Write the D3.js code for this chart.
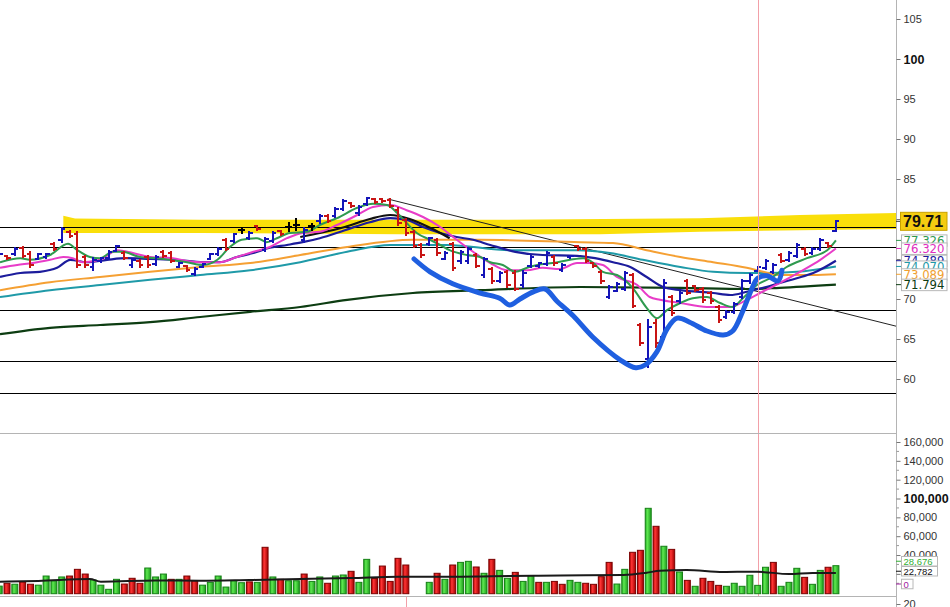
<!DOCTYPE html>
<html><head><meta charset="utf-8">
<script src="https://cdn.jsdelivr.net/npm/d3@7/dist/d3.min.js"></script>
<style>body{margin:0;background:#fff;overflow:hidden}svg{display:block}</style>
</head><body><svg id="c" width="950" height="607"></svg>
<script>
// ---------- DATA ----------
const opens  = [75.35,75.4,75.6,76.4,75.6,75.0,75.2,76.9,77.4,78.4,78.1,75.2,74.0,74.7,75.1,76.0,75.7,74.2,74.7,75.3,74.4,75.9,75.7,74.0,74.1,73.1,74.0,75.0,75.6,77.4,77.3,78.6,77.6,79.1,76.1,77.3,78.5,79.0,79.2,77.4,79.1,79.7,80.4,80.4,81.3,82.0,80.7,81.9,82.5,82.5,82.4,81.1,79.9,78.4,76.8,76.9,77.4,75.0,76.9,74.7,74.7,75.5,73.0,73.7,72.3,73.4,73.3,71.7,74.1,74.1,74.4,75.3,73.6,75.2,76.6,76.3,74.5,73.4,70.3,71.0,71.3,73.0,66.8,62.5,67.0,65.2,70.2,69.7,72.2,71.6,71.3,70.7,69.0,67.8,68.4,70.3,72.2,73.5,73.9,73.4,75.5,74.9,75.4,76.2,75.7,76.3,77.0,78.5];
const highs  = [75.75,75.5,76.5,76.6,75.9,75.75,75.75,77.1,78.9,78.6,78.4,75.5,75.25,75.25,76.1,76.75,75.9,75.1,74.9,75.5,75.5,76.1,75.9,74.6,74.25,74.0,74.5,75.75,76.4,77.6,78.25,79.0,78.4,79.25,77.75,78.4,78.6,79.6,80.1,78.9,79.5,80.6,80.6,81.5,82.4,82.1,81.75,82.75,82.6,82.6,82.6,81.4,80.1,78.6,77.0,77.75,77.6,75.9,77.1,76.1,76.4,75.75,75.25,73.9,73.4,73.6,73.6,73.6,75.5,74.6,75.9,75.5,74.5,75.5,76.75,76.5,74.6,73.6,71.75,72.1,73.4,73.25,67.0,67.4,67.4,72.4,70.5,71.0,72.4,71.75,71.5,70.9,69.25,68.6,69.6,72.5,73.25,74.1,75.0,74.5,75.75,75.9,77.0,76.4,76.4,77.6,77.1,79.8];
const lows   = [75.25,75.0,75.4,75.25,74.0,74.9,75.1,76.1,77.1,77.75,74.0,73.9,73.6,74.6,74.9,75.9,74.9,74.0,74.0,74.0,74.25,75.25,74.6,73.9,73.4,73.0,73.9,74.9,75.5,76.1,77.1,78.25,77.4,78.6,75.9,77.1,78.0,78.4,78.6,77.1,78.6,79.5,79.6,80.25,81.1,81.5,80.5,81.75,82.0,82.1,81.4,79.25,78.0,76.4,75.25,76.75,75.5,74.9,73.6,74.5,74.5,73.9,72.75,72.0,72.1,71.5,71.1,71.5,73.9,74.0,74.25,74.25,73.4,75.1,76.1,74.6,74.0,72.0,70.1,70.9,71.1,68.9,64.25,61.5,64.0,64.9,68.0,69.5,70.6,70.9,69.6,69.5,67.1,67.6,68.25,70.1,72.0,73.4,73.75,73.25,74.6,74.75,75.25,75.4,75.6,76.1,76.5,78.4];
const closes = [75.65,75.1,76.3,75.4,74.3,75.6,75.6,76.3,78.7,77.9,74.3,74.2,74.9,75.1,75.9,76.6,75.1,74.9,74.2,74.2,75.3,75.4,74.8,74.5,73.6,73.8,74.4,75.6,76.2,76.3,78.1,78.6,78.2,78.8,77.5,78.2,78.1,79.0,79.2,78.6,79.1,80.4,79.8,81.3,82.2,81.6,81.5,82.6,82.1,82.2,81.6,79.5,78.3,76.6,75.5,77.6,75.7,75.7,73.9,75.9,76.2,74.1,75.0,72.2,73.2,71.8,71.3,73.2,75.3,74.5,75.7,74.5,74.3,75.4,76.3,74.8,74.1,72.2,71.5,71.9,73.2,69.1,64.5,66.5,64.5,72.0,68.3,70.8,70.8,71.1,69.9,69.7,67.4,68.4,69.4,72.2,73.0,74.0,74.8,74.3,74.8,75.7,76.8,75.6,76.2,77.4,76.6,79.71];
const volumes = [7000,10000,9000,11400,9000,8000,17700,12700,16700,17700,24800,19800,13500,8000,3600,14200,9200,15300,10000,26200,16700,19800,14200,14200,17700,12700,8000,11000,17700,6000,12700,10600,11500,11000,48200,16700,14200,12700,12700,19800,12000,16700,10000,17700,18800,22700,11000,35400,15000,28300,12000,36500,29400,0,0,11000,20600,14200,29400,32200,33300,27300,20600,35400,23700,15300,21600,12000,18000,11000,11000,12000,8900,13100,11000,10000,8900,17000,32200,9200,24800,42900,45000,89600,70500,49300,46000,22000,13100,6800,15300,12000,7800,6800,10000,6800,18500,7800,27000,32200,6800,11000,25900,16300,8900,23700,27000,28676];
// u = green (up) volume bar, d = red (down), - = no volume
const volumeDirection = ("ududduuuud"+"dduuuudddu"+"uududduuuu"+"uudududuud"+"uuduuduudd"+"ddd--ududu"+"ududuuduud"+"udduuddddu"+"uddudududu"+"ddduuuuuud"+"uuuduudu").split("");

// moving averages: [bar index, price]
const maFast = [[0.1,74.6],[2.7,75.1],[3.9,74.9],[6.5,75.5],[8.8,76.9],[10,76.1],[11.6,75.25],[12.9,75.1],[14.5,75.9],[15.8,75.9],[18,75.25],[20.2,75.1],[21.8,74.9],[24,74.6],[26.1,74.25],[27.9,74.9],[29.5,76.5],[31,77.4],[33,77.6],[34.2,77.1],[35.5,77.6],[37.2,78.25],[39.4,78.4],[41,79.25],[43.2,80.1],[45.8,81.4],[47.8,81.9],[49.6,81.75],[50.9,80.75],[52.1,79.5],[53.4,78.25],[55.1,77.4],[56.4,76.75],[57.6,76.1],[59.8,75.5],[61.5,75.25],[62.8,74.6],[64.4,74.25],[66,73.4],[67.5,73.9],[68.8,74.25],[70.8,74.5],[73,74.9],[74.7,75.1],[76,74.5],[77.2,73.4],[79,73.0],[81,71.4],[82.8,68.9],[84.1,67.6],[85.4,68.6],[87.1,69.5],[88.7,70.1],[90.5,70.25],[92.2,69.5],[93.8,69.0],[95.1,70.1],[96.9,71.75],[98.9,72.75],[100.7,74.0],[103.3,75.1],[105.9,76.1],[107,77.326]];
const maMagenta = [[0.1,73.9],[2.3,74.25],[4.3,74.5],[6.5,74.9],[8.2,75.25],[9.4,75.1],[10.7,74.6],[12.9,74.9],[15.1,76.1],[17.1,75.75],[19.3,75.25],[22.2,75.1],[24,74.75],[26.1,74.6],[28.2,74.6],[30.4,75.25],[32.5,75.9],[34.6,76.5],[36.8,77.6],[38.8,78.25],[41,78.4],[43.2,79.25],[45.8,80.5],[47.8,81.5],[50,81.75],[52.1,81.1],[54.2,80.25],[56.4,79.0],[58.5,77.4],[60.6,75.9],[62.8,74.5],[64.9,73.6],[67.5,73.6],[69.5,73.9],[71.7,73.75],[73.9,74.5],[75.5,74.5],[77.2,74.25],[79,72.75],[81.6,71.75],[83.2,70.25],[84.5,69.9],[87.1,69.5],[90.5,69.0],[93.5,69.0],[95.6,69.9],[97.3,70.75],[99.8,72.0],[102.4,73.4],[105,74.9],[107,76.32]];
const maNavy = [[0.1,72.75],[2.7,73.25],[5.2,73.4],[7.4,73.9],[9.1,74.9],[11.2,74.6],[13.8,74.9],[16.3,75.1],[19.3,75.0],[22.5,74.9],[26.1,74.6],[28.2,74.6],[30.4,75.25],[32.5,75.75],[34.6,76.4],[36.8,76.75],[38.8,77.1],[41,77.6],[44.2,78.6],[47.4,79.6],[50,80.1],[52.1,79.9],[54.2,79.0],[56.4,78.25],[58.5,77.75],[60.6,77.4],[62.8,76.75],[66,75.9],[69.5,75.5],[73.9,75.4],[76.2,75.1],[78.5,74.6],[80.7,74.0],[82.8,72.75],[84.9,71.5],[87.1,71.1],[91.3,70.75],[93.5,70.5],[95.6,70.9],[97.7,71.4],[99.8,72.0],[102,72.6],[104.1,73.25],[107,74.789]];
const maTeal = [[0.1,70.25],[6.5,71.1],[12.9,71.75],[19.3,72.4],[25.7,73.0],[32.1,73.6],[38.5,74.6],[44.5,75.9],[50,76.75],[57.3,76.75],[65.3,76.1],[73.9,76.1],[78.1,75.75],[82.3,74.9],[87.1,74.0],[91.3,73.4],[95.6,73.25],[97.7,73.25],[102,73.4],[107,74.07]];
const maOrange = [[0.1,71.1],[6.5,72.1],[12.9,72.75],[19.3,73.4],[25.7,74.0],[32.1,74.5],[38.5,75.5],[44.5,76.5],[52.9,77.4],[61.5,77.4],[74.3,77.1],[78.5,77.0],[82.8,76.1],[87.1,75.25],[91.3,74.6],[95.6,73.9],[97.7,73.4],[99.8,73.0],[104.1,73.0],[107,73.089]];
const maLong = [[0.1,65.6],[6.5,66.4],[12.9,66.75],[19.3,67.1],[25.7,67.75],[32.1,68.4],[38.5,69.0],[44.5,69.9],[52.9,70.75],[61.5,71.1],[74.3,71.5],[87.1,71.4],[95.6,71.25],[99.8,71.4],[107,71.794]];
const maBlack = [[38.5,77.75],[41,78.25],[44.2,79.0],[47.4,80.0],[50,80.5],[52.5,80.0],[55.1,78.9],[57.6,77.6]];
const volumeMA = [[0,11700],[5,12500],[11.6,14500],[13,11700],[20,13000],[25.7,12700],[32,13500],[38.5,14500],[45,15500],[51,17000],[57.6,17000],[63,17500],[69,18000],[75,18500],[79.8,18800],[82.8,21200],[84.5,23300],[87.9,24000],[92.6,22000],[96.9,22300],[101,19800],[104,21000],[107,21000]];

// annotations
const levels = [79.0, 76.5, 68.625, 62.25, 58.25];
const trendLine = [[49.7,82.5],[114.7,66.6]];
const bandTop = [[8.2,80.4],[9.7,80.05],[25.7,79.9],[64,79.9],[89.6,80.1],[102.4,80.5],[114.7,80.75]];
const bandBottom = [[114.7,78.75],[102.4,78.6],[89.6,78.4],[76.8,78.1],[51.3,78.1],[25.7,78.25],[8.2,78.25]];
const handCurve = [[53.05,75.0],[55.1,73.4],[58,71.9],[61.5,70.75],[64,70.1],[65.3,69.25],[66.6,70.0],[68.3,70.9],[69.8,71.25],[71.3,69.75],[73.4,67.9],[75.9,65.25],[79.4,62.4],[81.4,61.4],[82.6,61.75],[84.1,63.4],[85.4,66.25],[86.7,67.6],[88.3,67.1],[90.5,66.0],[92.6,65.5],[93.8,66.0],[95.1,68.5],[96.3,71.4],[97,72.6],[98.2,72.9],[99.6,72.25],[100.1,73.6]];
const markerBar = 97, lowerMarkerBar = 52;

const priceTicks = [60,65,70,75,80,85,90,95,100,105];
const hiddenPriceLabels = [75,80];          // covered by the value boxes in the reference
const volumeTicks = [20000,40000,60000,80000,100000,120000,140000,160000];
const hiddenVolumeLabels = [20000];
const priceLabels = [
  {v:77.326, t:"77.326", c:"#2f9a4f"},
  {v:76.320, t:"76.320", c:"#e02fc0"},
  {v:74.789, t:"74.789", c:"#1c1c9c"},
  {v:74.070, t:"74.070", c:"#1f9aa8"},
  {v:73.089, t:"73.089", c:"#f0a030"},
  {v:71.794, t:"71.794", c:"#0d3d12"}];
const volumeLabels = [{v:28676,t:"28,676",c:"#33b033"},{v:22782,t:"22,782",c:"#111"},{v:0,t:"0",c:"#a020a0"}];

// ---------- CHART ----------
const N = opens.length;
const svg = d3.select("#c");
const defs = svg.append("defs");
defs.append("clipPath").attr("id","pc").append("rect").attr("x",0).attr("y",0).attr("width",896).attr("height",433);
defs.append("clipPath").attr("id","vc").append("rect").attr("x",0).attr("y",434).attr("width",896).attr("height",162);
function grad(id, stops){const lg=defs.append("linearGradient").attr("id",id).attr("x1",0).attr("x2",1).attr("y1",0).attr("y2",0);stops.forEach(([o,c])=>lg.append("stop").attr("offset",o).attr("stop-color",c));}
grad("gr",[[0,"#b00000"],[0.35,"#ff3535"],[1,"#a00000"]]);
grad("gg",[[0,"#22aa22"],[0.35,"#5ee850"],[1,"#1e9a1e"]]);

const x = d3.scaleLinear().domain([0,107]).range([-0.8,835.9]);
const y = d3.scaleLinear().domain([60,105]).range([379,19]);
const yv = d3.scaleLinear().domain([0,160000]).range([592.7,442]);

const P = svg.append("g").attr("clip-path","url(#pc)");
P.append("path").attr("d", d3.line().x(d=>x(d[0])).y(d=>y(d[1]))(bandTop.concat(bandBottom))+"Z").attr("fill","#fadf0a");
P.selectAll(".lv").data(levels).join("line").attr("x1",0).attr("x2",896)
  .attr("y1",d=>Math.round(y(d))+0.5).attr("y2",d=>Math.round(y(d))+0.5).attr("stroke","#000").attr("stroke-width",1);
svg.append("line").attr("x1",Math.round(x(markerBar))+0.5).attr("x2",Math.round(x(markerBar))+0.5).attr("y1",0).attr("y2",596)
  .attr("stroke","#f2a0a8").attr("stroke-width",1);
svg.append("line").attr("x1",Math.round(x(lowerMarkerBar))+0.5).attr("x2",Math.round(x(lowerMarkerBar))+0.5).attr("y1",597).attr("y2",607)
  .attr("stroke","#f2a0a8").attr("stroke-width",1);
P.append("line").attr("x1",x(trendLine[0][0])).attr("y1",y(trendLine[0][1])).attr("x2",x(trendLine[1][0])).attr("y2",y(trendLine[1][1]))
  .attr("stroke","#222").attr("stroke-width",1);
const ln = d3.line().x(d=>x(d[0])).y(d=>y(d[1])).curve(d3.curveMonotoneX);
[[maLong,"#0d3d12",2.2],[maTeal,"#1f9aa8",2],[maOrange,"#f5a033",2],[maNavy,"#1c1c9c",2.2],[maBlack,"#111",2.2],[maMagenta,"#e83cc8",2],[maFast,"#2f9a4f",2]]
 .forEach(([d,c,w])=>P.append("path").attr("d",ln(d)).attr("fill","none").attr("stroke",c).attr("stroke-width",w).attr("stroke-linejoin","round"));
const bars = P.append("g").attr("shape-rendering","crispEdges");
d3.range(N).forEach(i=>{
  const col = closes[i]>opens[i] ? "#1414b8" : (closes[i]<opens[i] ? "#c81414" : "#000");
  const cx = x(i);
  const g = bars.append("g").attr("stroke",col).attr("stroke-width",2);
  g.append("line").attr("x1",cx).attr("x2",cx).attr("y1",y(highs[i])-0.5).attr("y2",y(lows[i])+0.5);
  g.append("line").attr("x1",cx-3.5).attr("x2",cx).attr("y1",y(opens[i])).attr("y2",y(opens[i]));
  g.append("line").attr("x1",cx).attr("x2",cx+3.5).attr("y1",y(closes[i])).attr("y2",y(closes[i]));
});
P.append("path").attr("d", d3.line().x(d=>x(d[0])).y(d=>y(d[1])).curve(d3.curveCatmullRom.alpha(0.5))(handCurve))
  .attr("fill","none").attr("stroke","#1f5fe0").attr("stroke-width",5).attr("stroke-linecap","round").attr("stroke-linejoin","round");

svg.append("line").attr("x1",0).attr("x2",896).attr("y1",433.5).attr("y2",433.5).attr("stroke","#b4b4b4");
svg.append("line").attr("x1",0).attr("x2",896).attr("y1",596.5).attr("y2",596.5).attr("stroke","#b4b4b4");
svg.append("line").attr("x1",896.5).attr("x2",896.5).attr("y1",0).attr("y2",607).attr("stroke","#b4b4b4");

const FONT = "'Liberation Sans',Arial,sans-serif";
const ya = svg.append("g").attr("transform","translate(896.5,0)")
  .call(d3.axisRight(y).tickValues(priceTicks).tickSize(4).tickPadding(3)
    .tickFormat(d=>hiddenPriceLabels.includes(d)?"":d3.format("d")(d)));
ya.select(".domain").remove();
ya.selectAll("line").attr("stroke","#777");
ya.selectAll("text").attr("font-family",FONT).attr("font-size","11px").attr("fill","#333")
  .filter(d=>d===100).attr("font-weight","bold").attr("font-size","12.5px").attr("fill","#111");

const V = svg.append("g").attr("clip-path","url(#vc)");
V.selectAll(".vb").data(d3.range(N).filter(i=>volumes[i]>0)).join("rect")
  .attr("x",i=>x(i)-3).attr("width",6).attr("y",i=>yv(volumes[i])).attr("height",i=>yv(0)-yv(volumes[i])+1)
  .attr("fill",i=>volumeDirection[i]==="u"?"url(#gg)":"url(#gr)")
  .attr("stroke",i=>volumeDirection[i]==="u"?"#168016":"#7a0000").attr("stroke-width",1);
V.append("path").attr("d", d3.line().x(d=>x(d[0])).y(d=>yv(d[1])).curve(d3.curveMonotoneX)(volumeMA))
  .attr("fill","none").attr("stroke","#1a1a1a").attr("stroke-width",2);

const minor = d3.range(10000,170000,10000).filter(v=>v%20000!==0);
svg.append("g").selectAll("line").data(minor).join("line").attr("x1",896.5).attr("x2",899).attr("y1",d=>yv(d)).attr("y2",d=>yv(d)).attr("stroke","#999");
const va = svg.append("g").attr("transform","translate(896.5,0)")
  .call(d3.axisRight(yv).tickValues(volumeTicks).tickSize(4).tickPadding(3)
    .tickFormat(d=>hiddenVolumeLabels.includes(d)?"":d3.format(",")(d)));
va.select(".domain").remove();
va.selectAll("line").attr("stroke","#777");
va.selectAll("text").attr("font-family",FONT).attr("font-size","11px").attr("fill","#333")
  .filter(d=>d===100000).attr("font-weight","bold").attr("font-size","12.5px").attr("fill","#111");

const lowerScale = d3.scaleLinear().domain([0,20]).range([640,604]);
const la = svg.append("g").attr("transform","translate(896.5,0)")
  .call(d3.axisRight(lowerScale).tickValues([20]).tickSize(4).tickPadding(3));
la.select(".domain").remove();
la.selectAll("line").attr("stroke","#777");
la.selectAll("text").attr("font-family",FONT).attr("font-size","11px").attr("fill","#333");

priceLabels.forEach(l=>{
  const cy = y(l.v);
  svg.append("line").attr("x1",896).attr("x2",901).attr("y1",cy).attr("y2",cy).attr("stroke",l.c);
  svg.append("rect").attr("x",901.5).attr("y",cy-5.5).attr("width",45.5).attr("height",11.5).attr("fill","#fff").attr("stroke","#b8b8b8");
  svg.append("text").attr("x",903.5).attr("y",cy+4.5).attr("font-family","'DejaVu Sans',Verdana,sans-serif").attr("font-size","11.5px")
    .attr("textLength",41).attr("lengthAdjust","spacingAndGlyphs").attr("fill",l.c).text(l.t);
});
const lastY = y(closes[N-1]);
svg.append("line").attr("x1",896).attr("x2",901).attr("y1",lastY).attr("y2",lastY).attr("stroke","#333");
svg.append("rect").attr("x",900.5).attr("y",lastY-9).attr("width",46.5).attr("height",18).attr("fill","#f4cc10").attr("stroke","#c8a200");
svg.append("text").attr("x",903).attr("y",lastY+5.5).attr("font-family",FONT).attr("font-weight","bold")
  .attr("font-size","16px").attr("fill","#111").text(closes[N-1].toFixed(2));

let prev = 584;
volumeLabels.slice().sort((a,b)=>a.v-b.v).forEach((l,k)=>{
  let cy = Math.min(yv(l.v), 584);
  if(k>0) cy = Math.min(cy, prev-10);
  prev = cy;
  const w = l.t.length>2 ? 36 : 11.5;
  svg.append("line").attr("x1",896).attr("x2",901).attr("y1",cy).attr("y2",cy).attr("stroke",l.c);
  svg.append("rect").attr("x",901.5).attr("y",cy-4.75).attr("width",w).attr("height",9.5).attr("fill","#fff").attr("stroke","#b8b8b8");
  svg.append("text").attr("x",903.5).attr("y",cy+3.5).attr("font-family",FONT).attr("font-size","9.5px")
    .attr("fill",l.c).text(l.t);
});
</script>
</body></html>
